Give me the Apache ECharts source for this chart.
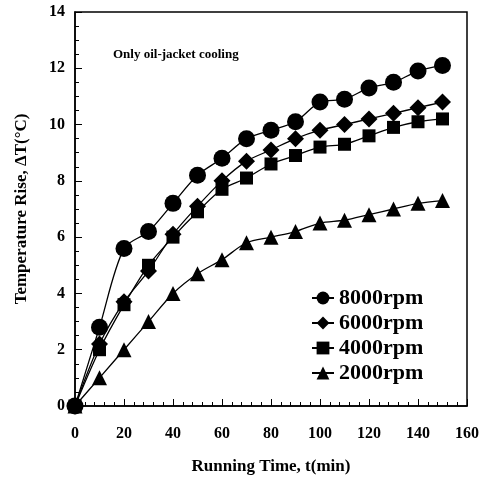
<!DOCTYPE html>
<html>
<head>
<meta charset="utf-8">
<script src="https://cdn.jsdelivr.net/npm/echarts@6/dist/echarts.min.js"></script>
<style>
  html, body { margin: 0; padding: 0; background: #fff; }
  #chart { width: 485px; height: 480px; }
</style>
</head>
<body>
<div id="chart"></div>
<script>
// running time, min
const times = [0, 10, 20, 30, 40, 50, 60, 70, 80, 90, 100, 110, 120, 130, 140, 150];
// temperature rise per speed
const rpm8000 = [0, 2.8, 5.6, 6.2, 7.2, 8.2, 8.8, 9.5, 9.8, 10.1, 10.8, 10.9, 11.3, 11.5, 11.9, 12.1];
const rpm6000 = [0, 2.2, 3.7, 4.8, 6.1, 7.1, 8.0, 8.7, 9.1, 9.5, 9.8, 10.0, 10.2, 10.4, 10.6, 10.8];
const rpm4000 = [0, 2.0, 3.6, 5.0, 6.0, 6.9, 7.7, 8.1, 8.6, 8.9, 9.2, 9.3, 9.6, 9.9, 10.1, 10.2];
const rpm2000 = [0, 1.0, 2.0, 3.0, 4.0, 4.7, 5.2, 5.8, 6.0, 6.2, 6.5, 6.6, 6.8, 7.0, 7.2, 7.3];

const myChart = echarts.init(document.getElementById("chart"));
const font = "Liberation Serif";

const pairs = (ys) => times.map((t, i) => [t, ys[i]]);

const makeSeries = (name, ys, symbol, size) => ({
  name: name,
  type: "line",
  data: pairs(ys),
  smooth: 0.3,
  symbol: symbol,
  symbolSize: size,
  itemStyle: { color: "#000" },
  lineStyle: { color: "#000", width: 1.3 },
});

myChart.setOption({
  animation: false,
  grid: {
    left: 75,
    right: 18,
    top: 12,
    bottom: 73,
    show: true,
    borderColor: "#000",
    borderWidth: 1.5,
  },
  legend: {
    orient: "vertical",
    left: 306,
    top: 282,
    itemWidth: 22,
    itemHeight: 16,
    itemGap: 3,
    textStyle: {
      fontFamily: font,
      fontWeight: "bold",
      fontSize: 22,
      lineHeight: 21,
      color: "#000",
    },
    data: ["8000rpm", "6000rpm", "4000rpm", "2000rpm"],
  },
  graphic: [
    {
      type: "text",
      left: 113,
      top: 48,
      style: {
        text: "Only oil-jacket cooling",
        fontFamily: font,
        fontWeight: "bold",
        fontSize: 13,
        fill: "#000",
      },
    },
  ],
  xAxis: {
    type: "value",
    min: 0,
    max: 160,
    interval: 20,
    name: "Running Time, t(min)",
    nameLocation: "middle",
    nameGap: 52,
    nameTextStyle: { fontFamily: font, fontWeight: "bold", fontSize: 17, color: "#000" },
    axisLine: { lineStyle: { color: "#000", width: 1.5 } },
    axisTick: { inside: true, length: 7, lineStyle: { color: "#000" } },
    minorTick: { show: true, splitNumber: 5, length: 4, lineStyle: { color: "#000" } },
    axisLabel: { fontFamily: font, fontWeight: "bold", fontSize: 16, color: "#000", margin: 20 },
    splitLine: { show: false },
  },
  yAxis: {
    type: "value",
    min: 0,
    max: 14,
    interval: 2,
    name: "Temperature Rise, ΔT(°C)",
    nameLocation: "middle",
    nameGap: 45,
    nameTextStyle: { fontFamily: font, fontWeight: "bold", fontSize: 17, color: "#000" },
    axisLine: { show: true, lineStyle: { color: "#000", width: 1.5 } },
    axisTick: { show: true, inside: true, length: 7, lineStyle: { color: "#000" } },
    minorTick: { show: true, splitNumber: 4, length: 4, lineStyle: { color: "#000" } },
    axisLabel: { fontFamily: font, fontWeight: "bold", fontSize: 16, color: "#000", margin: 10 },
    splitLine: { show: false },
  },
  series: [
    makeSeries("8000rpm", rpm8000, "circle", 17),
    makeSeries("6000rpm", rpm6000, "diamond", 17),
    makeSeries("4000rpm", rpm4000, "rect", 13),
    makeSeries("2000rpm", rpm2000, "triangle", 15),
  ],
});
</script>
</body>
</html>
